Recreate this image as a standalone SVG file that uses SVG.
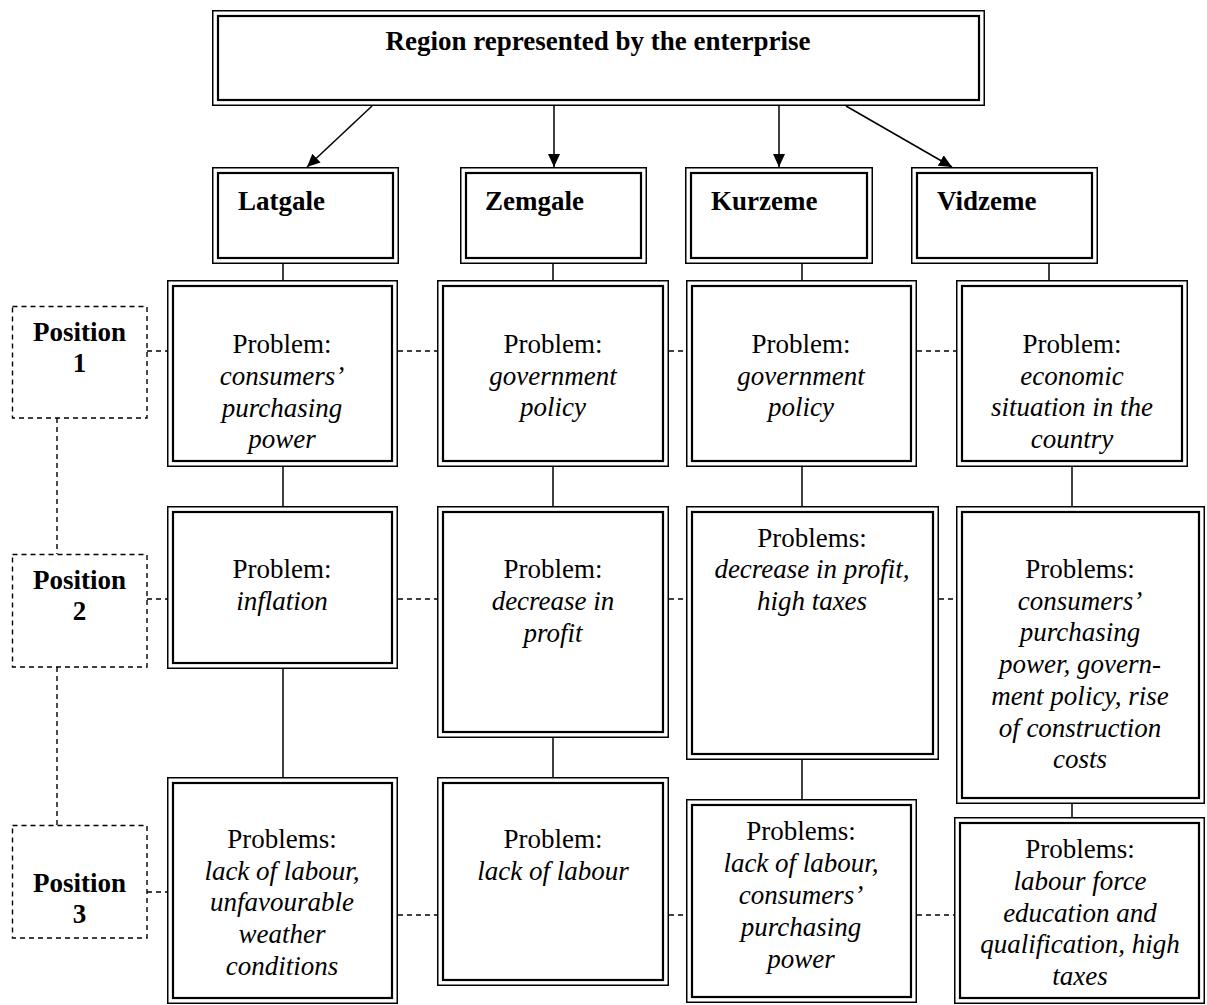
<svg xmlns="http://www.w3.org/2000/svg" width="1207" height="1005" viewBox="0 0 1207 1005" font-family="'Liberation Serif', 'DejaVu Serif', serif">
<style>
.o{fill:#fff;stroke:#000;stroke-width:1.5}
.i{fill:none;stroke:#000;stroke-width:2.2}
.d{fill:none;stroke:#000;stroke-width:1.4;stroke-dasharray:5,4}
.c{stroke:#000;stroke-width:1.5;fill:none}
text{font-family:'Liberation Serif', 'DejaVu Serif', serif;font-size:27px;fill:#000}
.b{font-weight:bold}
.m{text-anchor:middle}
.it{font-style:italic}
</style>
<defs>
<marker id="ah" markerUnits="userSpaceOnUse" viewBox="0 0 13 12" markerWidth="13" markerHeight="12" refX="13" refY="6" orient="auto">
<path d="M0,0 L13,6 L0,12 z" fill="#000"/>
</marker>
</defs>
<rect width="1207" height="1005" fill="#fff"/>

<g id="connectors">
<line class="c" x1="372" y1="106" x2="307" y2="167" marker-end="url(#ah)"/>
<line class="c" x1="554" y1="106" x2="554" y2="167" marker-end="url(#ah)"/>
<line class="c" x1="779" y1="106" x2="779" y2="167" marker-end="url(#ah)"/>
<line class="c" x1="846" y1="106" x2="952" y2="167" marker-end="url(#ah)"/>
<line class="c" x1="283" y1="264" x2="283" y2="280"/>
<line class="c" x1="553" y1="264" x2="553" y2="280"/>
<line class="c" x1="802" y1="264" x2="802" y2="280"/>
<line class="c" x1="1049" y1="264" x2="1049" y2="280"/>
<line class="c" x1="283" y1="467" x2="283" y2="506"/>
<line class="c" x1="553" y1="467" x2="553" y2="506"/>
<line class="c" x1="802" y1="467" x2="802" y2="506"/>
<line class="c" x1="1072" y1="467" x2="1072" y2="506"/>
<line class="c" x1="283" y1="669" x2="283" y2="777"/>
<line class="c" x1="553" y1="738" x2="553" y2="777"/>
<line class="c" x1="802" y1="760" x2="802" y2="799"/>
<line class="c" x1="1072" y1="804" x2="1072" y2="817"/>
<line class="d" x1="57" y1="418" x2="57" y2="554"/>
<line class="d" x1="57" y1="667" x2="57" y2="825"/>
<line class="d" x1="147" y1="351" x2="167" y2="351"/>
<line class="d" x1="398" y1="351" x2="437" y2="351"/>
<line class="d" x1="669" y1="351" x2="686" y2="351"/>
<line class="d" x1="917" y1="351" x2="956" y2="351"/>
<line class="d" x1="147" y1="599" x2="167" y2="599"/>
<line class="d" x1="398" y1="599" x2="437" y2="599"/>
<line class="d" x1="669" y1="599" x2="686" y2="599"/>
<line class="d" x1="939" y1="599" x2="956" y2="599"/>
<line class="d" x1="147" y1="892" x2="167" y2="892"/>
<line class="d" x1="398" y1="915" x2="437" y2="915"/>
<line class="d" x1="669" y1="915" x2="686" y2="915"/>
<line class="d" x1="917" y1="915" x2="954" y2="915"/>
</g>

<g id="top">
<rect class="o" x="212.75" y="10.75" width="771.5" height="94.5"/>
<rect class="i" x="218" y="16" width="761" height="84"/>
<text class="b m" x="598" y="50">Region represented by the enterprise</text>
</g>

<g id="latgale">
<rect class="o" x="212.75" y="167.75" width="185.5" height="95.5"/>
<rect class="i" x="218" y="173" width="175" height="85"/>
<text class="b" x="238" y="210">Latgale</text>
</g>
<g id="zemgale">
<rect class="o" x="460.75" y="167.75" width="185.5" height="95.5"/>
<rect class="i" x="466" y="173" width="175" height="85"/>
<text class="b" x="485" y="210">Zemgale</text>
</g>
<g id="kurzeme">
<rect class="o" x="685.75" y="167.75" width="186.5" height="95.5"/>
<rect class="i" x="691" y="173" width="176" height="85"/>
<text class="b" x="711" y="210">Kurzeme</text>
</g>
<g id="vidzeme">
<rect class="o" x="911.75" y="167.75" width="185.5" height="95.5"/>
<rect class="i" x="917" y="173" width="175" height="85"/>
<text class="b" x="937" y="210">Vidzeme</text>
</g>

<g id="pos1">
<rect class="d" x="12.5" y="306.5" width="134.5" height="111.5"/>
<text class="b m" x="79.5" y="341">Position</text>
<text class="b m" x="79.5" y="372">1</text>
</g>
<g id="pos2">
<rect class="d" x="12.5" y="554.5" width="134.5" height="112.5"/>
<text class="b m" x="79.5" y="589">Position</text>
<text class="b m" x="79.5" y="620">2</text>
</g>
<g id="pos3">
<rect class="d" x="12.5" y="825.5" width="134.5" height="112.5"/>
<text class="b m" x="79.5" y="892">Position</text>
<text class="b m" x="79.5" y="923">3</text>
</g>

<g id="lat1">
<rect class="o" x="167.75" y="280.75" width="229.5" height="185.5"/>
<rect class="i" x="173" y="286" width="219" height="175"/>
<text class="m" x="282" y="353">Problem:</text>
<text class="m it" x="282" y="385">consumers’</text>
<text class="m it" x="282" y="417">purchasing</text>
<text class="m it" x="282" y="448">power</text>
</g>
<g id="zem1">
<rect class="o" x="437.75" y="280.75" width="230.5" height="185.5"/>
<rect class="i" x="443" y="286" width="220" height="175"/>
<text class="m" x="553" y="353">Problem:</text>
<text class="m it" x="553" y="385">government</text>
<text class="m it" x="553" y="416">policy</text>
</g>
<g id="kur1">
<rect class="o" x="686.75" y="280.75" width="229.5" height="185.5"/>
<rect class="i" x="692" y="286" width="219" height="175"/>
<text class="m" x="801" y="353">Problem:</text>
<text class="m it" x="801" y="385">government</text>
<text class="m it" x="801" y="416">policy</text>
</g>
<g id="vid1">
<rect class="o" x="956.75" y="280.75" width="230.5" height="185.5"/>
<rect class="i" x="962" y="286" width="220" height="175"/>
<text class="m" x="1072" y="353">Problem:</text>
<text class="m it" x="1072" y="385">economic</text>
<text class="m it" x="1072" y="416">situation in the</text>
<text class="m it" x="1072" y="448">country</text>
</g>

<g id="lat2">
<rect class="o" x="167.75" y="506.75" width="229.5" height="161.5"/>
<rect class="i" x="173" y="512" width="219" height="151"/>
<text class="m" x="282" y="578">Problem:</text>
<text class="m it" x="282" y="610">inflation</text>
</g>
<g id="zem2">
<rect class="o" x="437.75" y="506.75" width="230.5" height="230.5"/>
<rect class="i" x="443" y="512" width="220" height="220"/>
<text class="m" x="553" y="578">Problem:</text>
<text class="m it" x="553" y="610">decrease in</text>
<text class="m it" x="553" y="642">profit</text>
</g>
<g id="kur2">
<rect class="o" x="686.75" y="506.75" width="251.5" height="252.5"/>
<rect class="i" x="692" y="512" width="241" height="242"/>
<text class="m" x="812" y="547">Problems:</text>
<text class="m it" x="812" y="578">decrease in profit,</text>
<text class="m it" x="812" y="610">high taxes</text>
</g>
<g id="vid2">
<rect class="o" x="956.75" y="506.75" width="247.5" height="296.5"/>
<rect class="i" x="962" y="512" width="237" height="286"/>
<text class="m" x="1080" y="578">Problems:</text>
<text class="m it" x="1080" y="610">consumers’</text>
<text class="m it" x="1080" y="641">purchasing</text>
<text class="m it" x="1080" y="673">power, govern-</text>
<text class="m it" x="1080" y="705">ment policy, rise</text>
<text class="m it" x="1080" y="737">of construction</text>
<text class="m it" x="1080" y="768">costs</text>
</g>

<g id="lat3">
<rect class="o" x="167.75" y="777.75" width="229.5" height="225.5"/>
<rect class="i" x="173" y="783" width="219" height="215"/>
<text class="m" x="282" y="848">Problems:</text>
<text class="m it" x="282" y="880">lack of labour,</text>
<text class="m it" x="282" y="911">unfavourable</text>
<text class="m it" x="282" y="943">weather</text>
<text class="m it" x="282" y="975">conditions</text>
</g>
<g id="zem3">
<rect class="o" x="437.75" y="777.75" width="230.5" height="207.5"/>
<rect class="i" x="443" y="783" width="220" height="197"/>
<text class="m" x="553" y="848">Problem:</text>
<text class="m it" x="553" y="880">lack of labour</text>
</g>
<g id="kur3">
<rect class="o" x="686.75" y="799.75" width="229.5" height="202.5"/>
<rect class="i" x="692" y="805" width="219" height="192"/>
<text class="m" x="801" y="840">Problems:</text>
<text class="m it" x="801" y="872">lack of labour,</text>
<text class="m it" x="801" y="904">consumers’</text>
<text class="m it" x="801" y="936">purchasing</text>
<text class="m it" x="801" y="968">power</text>
</g>
<g id="vid3">
<rect class="o" x="954.75" y="817.75" width="249.5" height="185.5"/>
<rect class="i" x="960" y="823" width="239" height="175"/>
<text class="m" x="1080" y="858">Problems:</text>
<text class="m it" x="1080" y="890">labour force</text>
<text class="m it" x="1080" y="922">education and</text>
<text class="m it" x="1080" y="953">qualification, high</text>
<text class="m it" x="1080" y="985">taxes</text>
</g>
</svg>
